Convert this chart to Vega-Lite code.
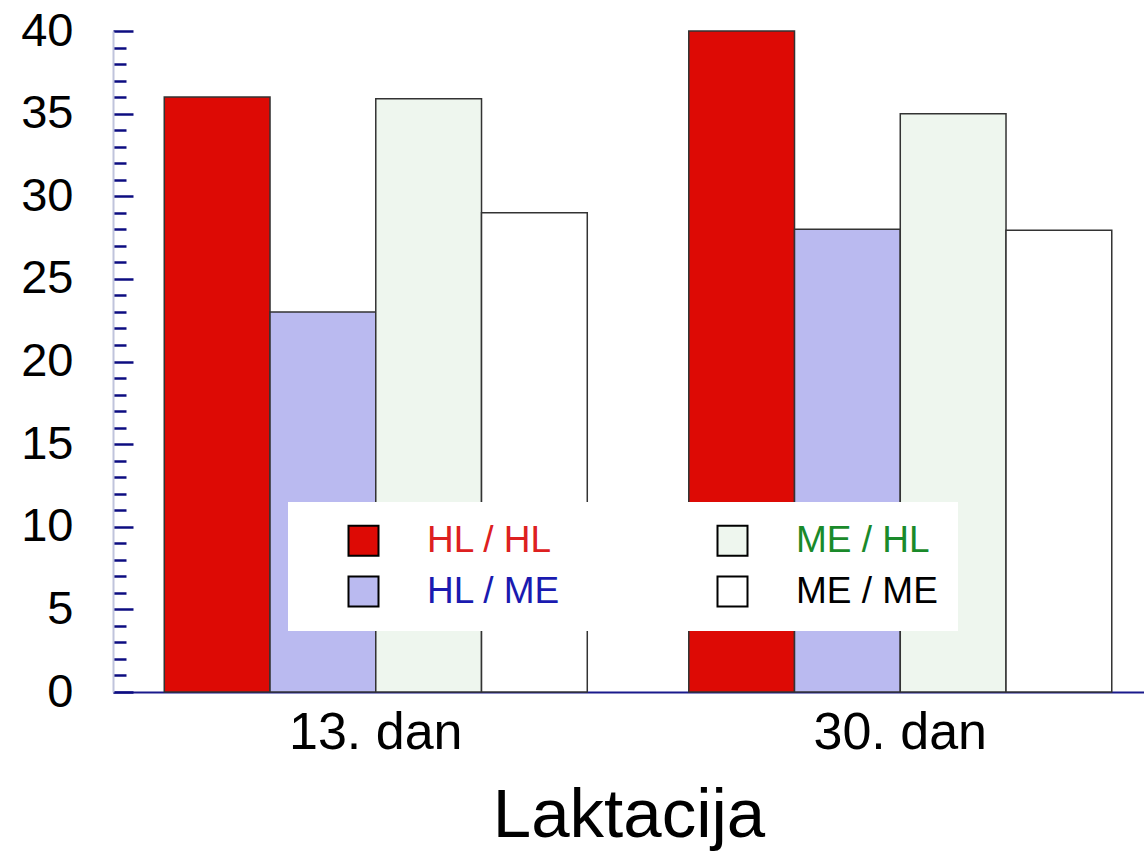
{
  "$schema": "https://vega.github.io/schema/vega-lite/v6.json",
  "autosize": "none",
  "padding": {"left": 113, "top": 31, "right": 0, "bottom": 159},
  "width": 1031,
  "height": 661,
  "background": "white",
  "config": {"view": {"stroke": null}, "font": "Liberation Sans"},
  "data": {
    "values": [
      {"day": "13. dan", "group": "HL / HL", "value": 36},
      {"day": "13. dan", "group": "HL / ME", "value": 23},
      {"day": "13. dan", "group": "ME / HL", "value": 35.9},
      {"day": "13. dan", "group": "ME / ME", "value": 29},
      {"day": "30. dan", "group": "HL / HL", "value": 40},
      {"day": "30. dan", "group": "HL / ME", "value": 28},
      {"day": "30. dan", "group": "ME / HL", "value": 35},
      {"day": "30. dan", "group": "ME / ME", "value": 27.95}
    ]
  },
  "mark": {"type": "bar", "stroke": "#333333", "strokeWidth": 1.5},
  "encoding": {
    "x": {
      "field": "day",
      "type": "nominal",
      "scale": {"paddingInner": 0.1935, "paddingOuter": 0.0796, "align": 0.614},
      "axis": {
        "title": "Laktacija",
        "titleFontSize": 69,
        "titleFontWeight": "normal",
        "titleColor": "black",
        "titleBaseline": "alphabetic",
        "titleY": 144,
        "labelAngle": 0,
        "labelFontSize": 52,
        "labelColor": "black",
        "labelPadding": 15,
        "ticks": false,
        "domainColor": "#1a1a8c",
        "domainWidth": 2
      }
    },
    "xOffset": {
      "field": "group",
      "type": "nominal",
      "sort": ["HL / HL", "HL / ME", "ME / HL", "ME / ME"],
      "scale": {"paddingInner": 0, "paddingOuter": 0}
    },
    "y": {
      "field": "value",
      "type": "quantitative",
      "scale": {"domain": [0, 40], "nice": false},
      "axis": {
        "title": null,
        "grid": false,
        "values": [0,1,2,3,4,5,6,7,8,9,10,11,12,13,14,15,16,17,18,19,20,21,22,23,24,25,26,27,28,29,30,31,32,33,34,35,36,37,38,39,40],
        "labelExpr": "datum.value % 5 === 0 ? datum.label : ''",
        "labelFontSize": 47,
        "labelColor": "black",
        "labelPadding": 60,
        "labelBaseline": "middle",
        "tickColor": "#0c0c80",
        "tickWidth": 2.5,
        "tickSize": {"condition": {"test": "datum.value % 5 === 0", "value": -20}, "value": -13},
        "domainColor": "#c0c4dc",
        "domainWidth": 2
      }
    },
    "color": {
      "field": "group",
      "type": "nominal",
      "scale": {
        "domain": ["HL / HL", "HL / ME", "ME / HL", "ME / ME"],
        "range": ["#dd0a05", "#babaf0", "#eef6ee", "#ffffff"]
      },
      "legend": {
        "title": null,
        "orient": "none",
        "legendX": 175,
        "legendY": 471,
        "columns": 2,
        "fillColor": "white",
        "padding": 20,
        "symbolType": "square",
        "symbolSize": 900,
        "symbolStrokeColor": "black",
        "symbolStrokeWidth": 2,
        "symbolOpacity": 1,
        "symbolOffset": 37,
        "labelOffset": 45,
        "labelFontSize": 37,
        "rowPadding": 12,
        "columnPadding": 116,
        "encode": {
          "labels": {
            "update": {
              "fill": {"signal": "datum.label === 'HL / HL' ? '#dd2020' : datum.label === 'HL / ME' ? '#1a1ab0' : datum.label === 'ME / HL' ? '#1a8a2a' : '#000000'"}
            }
          }
        }
      }
    }
  }
}
